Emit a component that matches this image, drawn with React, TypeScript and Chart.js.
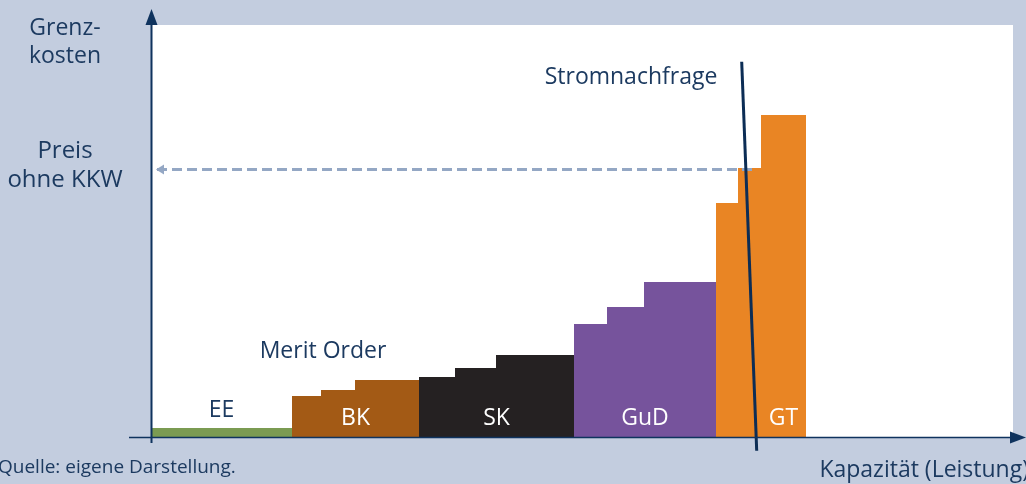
import { useEffect, useRef } from "react";
import { Chart, registerables } from "chart.js";
Chart.register(...registerables);

// Merit order technologies
const technologies = ["EE", "BK", "SK", "GuD", "GT"];
const techColors = ["#7b9b52", "#a35a15", "#252122", "#76539c", "#e98524"];
const techLabelColors = ["#1c3a60", "#ffffff", "#ffffff", "#ffffff", "#ffffff"];
// capacity boundaries of the steps (cumulative capacity units)
const stepEdges = [
  [0, 14.1],
  [14.1, 17.0, 20.4, 26.8],
  [26.8, 30.4, 34.5, 42.3],
  [42.3, 45.6, 49.3, 56.5],
  [56.5, 58.7, 61.0, 65.5],
];
// marginal cost of each step
const stepCosts = [
  [0.9],
  [4.1, 4.7, 5.7],
  [6.0, 6.9, 8.2],
  [11.3, 13.0, 15.5],
  [23.4, 26.9, 32.2],
];
// where the label sits: centre of whole block or of last step
const labelAnchor = ["group", "group", "group", "group", "last"];

// demand curve (Stromnachfrage), two endpoints [capacity, cost]
const demandX = [59.07, 60.57];
const demandY = [37.53, -1.37];
// price without nuclear (Preis ohne KKW)
const priceLevel = 26.75;
const priceFrom = 0.6;
const priceTo = 60.2;

const xMax = 86.2;
const yMax = 41.2;

const NAVY = "#1c3a60";
const AXIS = "#0f335e";
const BG = "#c3cddf";
const FONT = '"Open Sans", "Noto Sans", sans-serif';

export default function App() {
  const ref = useRef<HTMLCanvasElement | null>(null);

  useEffect(() => {
    const canvas = ref.current;
    if (!canvas) return;

    const barSets = technologies.map((t, i) => {
      const e = stepEdges[i];
      const c = stepCosts[i];
      const pts: { x: number; y: number }[] = [{ x: e[0], y: 0 }];
      for (let k = 0; k < c.length; k++) {
        pts.push({ x: e[k], y: c[k] });
        pts.push({ x: e[k + 1], y: c[k] });
      }
      pts.push({ x: e[e.length - 1], y: 0 });
      return {
        label: t,
        data: pts,
        showLine: true,
        fill: "origin",
        backgroundColor: techColors[i],
        borderColor: techColors[i],
        borderWidth: 0,
        pointRadius: 0,
        tension: 0,
        order: 2,
      };
    });

    const decor = {
      id: "decor",
      beforeDraw(chart: any) {
        const { ctx, chartArea } = chart;
        ctx.save();
        ctx.fillStyle = BG;
        ctx.fillRect(0, 0, chart.width, chart.height);
        ctx.fillStyle = "#ffffff";
        ctx.fillRect(chartArea.left, chartArea.top, chartArea.right - chartArea.left, chartArea.bottom - chartArea.top);
        ctx.restore();
      },
      afterDatasetsDraw(chart: any) {
        const { ctx, scales } = chart;
        const xs = scales.x;
        const ys = scales.y;
        const x0 = xs.getPixelForValue(0);
        const y0 = ys.getPixelForValue(0);
        ctx.save();
        // price arrowhead
        const py = ys.getPixelForValue(priceLevel);
        const px = xs.getPixelForValue(0) + 5;
        ctx.fillStyle = "#94a7c4";
        ctx.beginPath();
        ctx.moveTo(px, py);
        ctx.lineTo(px + 8, py - 5);
        ctx.lineTo(px + 8, py + 5);
        ctx.closePath();
        ctx.fill();

        // axes
        ctx.strokeStyle = AXIS;
        ctx.fillStyle = AXIS;
        ctx.lineWidth = 2;
        ctx.beginPath();
        ctx.moveTo(x0 + 0.5, y0 + 6);
        ctx.lineTo(x0 + 0.5, 22);
        ctx.stroke();
        ctx.beginPath();
        ctx.moveTo(x0 + 0.5, 9);
        ctx.lineTo(x0 + 6.5, 25);
        ctx.lineTo(x0 - 5.5, 25);
        ctx.closePath();
        ctx.fill();

        ctx.lineWidth = 1.5;
        ctx.beginPath();
        ctx.moveTo(129, y0 + 0.5);
        ctx.lineTo(1013, y0 + 0.5);
        ctx.stroke();
        ctx.beginPath();
        ctx.moveTo(1026, y0 + 0.5);
        ctx.lineTo(1010, y0 - 5.5);
        ctx.lineTo(1010, y0 + 6.5);
        ctx.closePath();
        ctx.fill();

        // texts
        ctx.textBaseline = "alphabetic";
        ctx.font = `23px ${FONT}`;
        ctx.fillStyle = NAVY;
        ctx.textAlign = "center";
        ctx.fillText("Grenz-", 65, 35);
        ctx.fillText("kosten", 65, 63);
        ctx.font = `24px ${FONT}`;
        ctx.fillText("Preis", 65, 158);
        ctx.fillText("ohne KKW", 65, 187);
        ctx.font = `23px ${FONT}`;
        ctx.fillText("Stromnachfrage", 631, 84);
        ctx.fillText("Merit Order", 323, 358);
        ctx.textAlign = "right";
        ctx.fillText("Kapazität (Leistung)", 1029, 477);
        ctx.textAlign = "left";
        ctx.font = `19px ${FONT}`;
        ctx.fillText("Quelle: eigene Darstellung.", -2, 473);

        ctx.font = `23px ${FONT}`;
        ctx.textAlign = "center";
        technologies.forEach((t, i) => {
          const e = stepEdges[i];
          const a = labelAnchor[i] === "last" ? e[e.length - 2] : e[0];
          const b = e[e.length - 1];
          const cx = (xs.getPixelForValue(a) + xs.getPixelForValue(b)) / 2;
          ctx.fillStyle = techLabelColors[i];
          ctx.fillText(t, cx, i === 0 ? 417 : 425);
        });
        ctx.restore();
      },
    };

    const chart = new Chart(canvas, {
      type: "scatter",
      data: {
        datasets: [
          {
            label: "Stromnachfrage",
            data: demandX.map((x, i) => ({ x, y: demandY[i] })),
            showLine: true,
            borderColor: "#0c2d55",
            borderWidth: 3,
            pointRadius: 0,
            fill: false,
            clip: false,
            order: 0,
          },
          {
            label: "Preis ohne KKW",
            data: [
              { x: priceFrom, y: priceLevel },
              { x: priceTo, y: priceLevel },
            ],
            showLine: true,
            borderColor: "#94a7c4",
            borderWidth: 3,
            borderDash: [10, 5],
            pointRadius: 0,
            fill: false,
            order: 1,
          },
          ...barSets,
        ] as any,
      },
      options: {
        animation: false,
        responsive: false,
        layout: { padding: { left: 151, right: 13, top: 25, bottom: 47 } },
        plugins: { legend: { display: false }, tooltip: { enabled: false } },
        scales: {
          x: { type: "linear", min: 0, max: xMax, display: false },
          y: { type: "linear", min: 0, max: yMax, display: false },
        },
      } as any,
      plugins: [decor],
    });
    return () => chart.destroy();
  }, []);

  return (
    <div style={{ position: "fixed", left: 0, top: 0, width: 1026, height: 484 }}>
      <canvas ref={ref} width={1026} height={484} style={{ display: "block" }} />
    </div>
  );
}
